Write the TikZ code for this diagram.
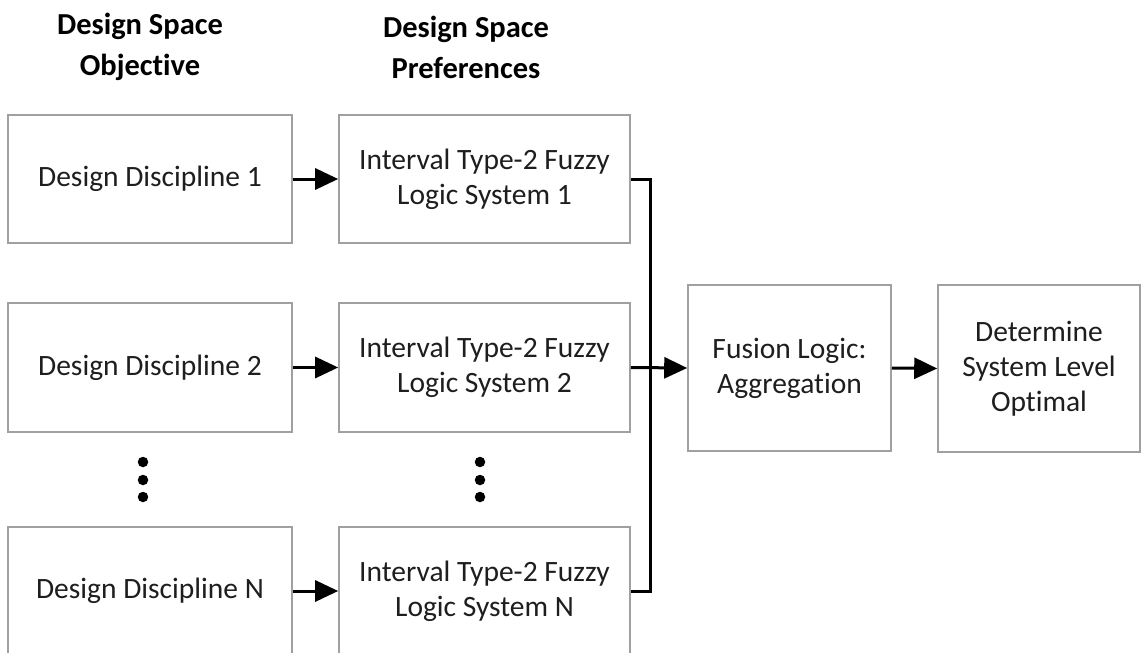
\documentclass[tikz,border=0pt]{standalone}
\usepackage{fontspec}
\setmainfont{Carlito}[Ligatures=NoCommon]
\usetikzlibrary{arrows.meta}
\definecolor{boxline}{HTML}{A0A0A0}
\definecolor{txt}{HTML}{1E1E1E}
\tikzset{
  box/.style={draw=boxline, line width=1.6pt, fill=white, inner sep=0pt, align=center,
    text=txt, font=\fontsize{29.5}{35}\selectfont},
  head/.style={align=center, inner sep=0pt, font=\fontsize{30.5}{41}\selectfont\bfseries, text=black},
  conn/.style={line width=3pt, black},
  arr/.style={conn, -{Triangle[length=23pt,width=21pt]}},
  dotm/.style={circle, fill=black, inner sep=0pt, minimum size=10.5pt}
}
\begin{document}
\begin{tikzpicture}[x=1pt,y=-1pt]
\useasboundingbox (0,0) rectangle (1141,653);
\clip (0,0) rectangle (1141,653);
% headings
\node[head] (h1) at (140,47) {Design Space\\Objective};
\node[head] (h2) at (466,47) {Design Space\\Preferences};
% column 1
\node[box, minimum width=284pt, minimum height=128pt] (d1) at (150,179) {Design Discipline 1};
\node[box, minimum width=284pt, minimum height=129pt] (d2) at (150,367.5) {Design Discipline 2};
\node[box, minimum width=284pt, minimum height=128pt] (dn) at (150,591) {Design Discipline N};
% column 2
\node[box, minimum width=291pt, minimum height=128pt] (f1) at (484.5,179) {Interval Type-2 Fuzzy\\Logic System 1};
\node[box, minimum width=291pt, minimum height=129pt] (f2) at (484.5,367.5) {Interval Type-2 Fuzzy\\Logic System 2};
\node[box, minimum width=291pt, minimum height=128pt] (fn) at (484.5,591) {Interval Type-2 Fuzzy\\Logic System N};
% right boxes
\node[box, minimum width=203pt, minimum height=166pt] (fu) at (789.5,368) {Fusion Logic:\\Aggregation};
\node[box, minimum width=202pt, minimum height=167pt] (de) at (1039,368.5) {Determine\\System Level\\Optimal};
% dots
\node[dotm] (a1) at (143,462) {};
\node[dotm] (a2) at (143,480) {};
\node[dotm] (a3) at (143,497) {};
\node[dotm] (b1) at (480,462) {};
\node[dotm] (b2) at (480,480) {};
\node[dotm] (b3) at (480,497) {};
% connectors
\draw[arr] (d1.east) -- (f1.west);
\draw[arr] (d2.east) -- (f2.west);
\draw[arr] (dn.east) -- (fn.west);
\coordinate (bus) at (650,368);
\draw[conn, line join=miter] (f1.east) -| (bus);
\draw[conn, line join=miter] (fn.east) -| (bus);
\draw[arr] (f2.east) -- (fu.west);
\draw[arr] (fu.east) -- (de.west);
\end{tikzpicture}
\end{document}
